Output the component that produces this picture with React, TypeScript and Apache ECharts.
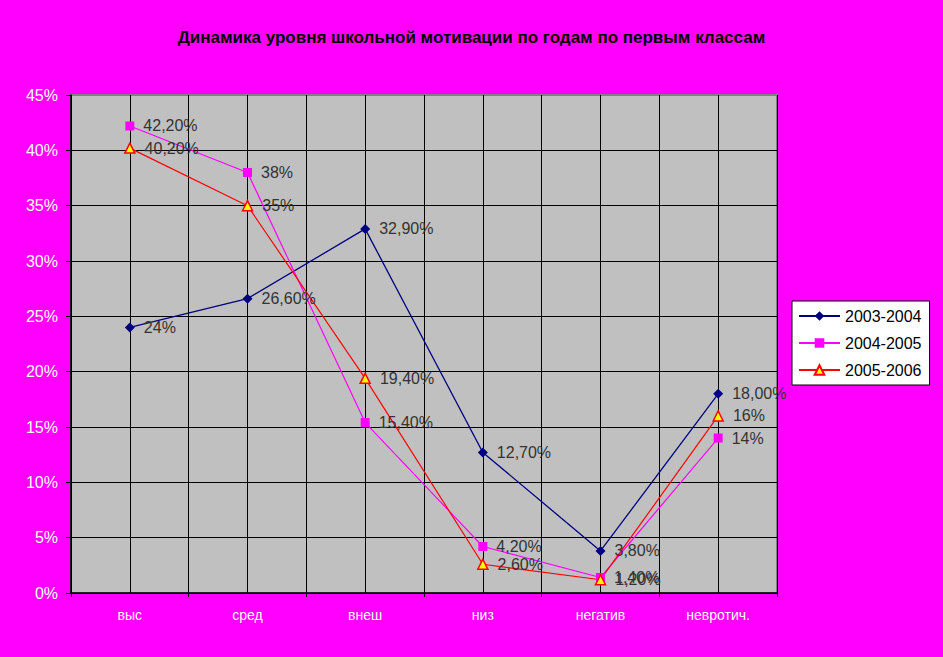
import React, { useEffect, useRef } from "react";
import * as echarts from "echarts";

const categories = ["выс", "сред", "внеш", "низ", "негатив", "невротич."];
const seriesNames = ["2003-2004", "2004-2005", "2005-2006"];
const values2003 = [24, 26.6, 32.9, 12.7, 3.8, 18];
const values2004 = [42.2, 38, 15.4, 4.2, 1.4, 14];
const values2005 = [40.2, 35, 19.4, 2.6, 1.2, 16];
const labels2003 = ["24%", "26,60%", "32,90%", "12,70%", "3,80%", "18,00%"];
const labels2004 = ["42,20%", "38%", "15,40%", "4,20%", "1,40%", "14%"];
const labels2005 = ["40,20%", "35%", "19,40%", "2,60%", "1,20%", "16%"];
const yTicks = [0, 5, 10, 15, 20, 25, 30, 35, 40, 45];
const halfSlots = ["", "", "", "", "", "", "", "", "", "", "", ""];

const FONT = "Liberation Sans, Arial, sans-serif";

export default function App() {
  const ref = useRef<HTMLDivElement>(null);
  useEffect(() => {
    if (!ref.current) return;
    const chart = echarts.init(ref.current, null, { renderer: "svg" });
    const labelCfg = (texts: string[]) => ({
      show: true,
      position: "right" as const,
      distance: 9,
      fontFamily: FONT,
      fontSize: 16,
      color: "#333333",
      formatter: (p: any) => texts[p.dataIndex],
    });
    const gridColors = yTicks.map((t, i) => (i === yTicks.length - 1 ? "#808080" : "#000000"));
    chart.setOption({
      animation: false,
      backgroundColor: "#FF00FF",
      title: {
        text: "Динамика уровня школьной мотивации по годам по первым классам",
        left: "center",
        top: 24,
        textStyle: {
          fontFamily: FONT,
          fontSize: 17,
          fontWeight: "bold",
          color: "#000000",
          textShadowColor: "#ffffff",
          textShadowOffsetX: 1,
          textShadowOffsetY: 1,
          textShadowBlur: 0,
        },
      },
      legend: {
        orient: "vertical",
        left: 792,
        top: 301,
        width: 136,
        padding: [7, 8, 7, 6],
        backgroundColor: "#ffffff",
        borderColor: "#000000",
        borderWidth: 1,
        itemWidth: 41,
        itemHeight: 12,
        itemGap: 11,
        textStyle: { fontFamily: FONT, fontSize: 16, color: "#000000" },
        data: seriesNames,
      },
      grid: {
        left: 71,
        right: 166,
        top: 95,
        bottom: 64,
        show: true,
        backgroundColor: "#C0C0C0",
        borderColor: "#808080",
        borderWidth: 2,
      },
      xAxis: [
        {
          type: "category",
          data: categories,
          boundaryGap: true,
          axisLine: { show: true, lineStyle: { color: "#000000", width: 1.5 } },
          axisTick: { show: true, length: 4, lineStyle: { color: "#000000" } },
          axisLabel: {
            fontFamily: FONT,
            fontSize: 14,
            color: "#ffffff",
            margin: 15,
            textShadowColor: "#000000",
            textShadowOffsetX: 1,
            textShadowOffsetY: 1,
            textShadowBlur: 0,
          },
          splitLine: { show: false },
        },
        {
          type: "category",
          data: halfSlots,
          boundaryGap: true,
          position: "bottom",
          axisLine: { show: false },
          axisTick: { show: false },
          axisLabel: { show: false },
          splitLine: { show: true, lineStyle: { color: "#000000", width: 1 } },
        },
      ],
      yAxis: {
        type: "value",
        min: 0,
        max: 45,
        interval: 5,
        axisLine: { show: true, lineStyle: { color: "#000000", width: 1.5 } },
        axisTick: { show: true, length: 5, lineStyle: { color: "#000000" } },
        axisLabel: {
          formatter: "{value}%",
          fontFamily: FONT,
          fontSize: 16,
          color: "#ffffff",
          margin: 13,
          textShadowColor: "#000000",
          textShadowOffsetX: 1,
          textShadowOffsetY: 1,
          textShadowBlur: 0,
        },
        splitLine: { show: true, lineStyle: { color: gridColors, width: 1 } },
      },
      series: [
        {
          name: seriesNames[0],
          type: "line",
          xAxisIndex: 0,
          data: values2003,
          symbol: "diamond",
          symbolSize: 10,
          itemStyle: { color: "#000080" },
          lineStyle: { color: "#000080", width: 1.3 },
          label: labelCfg(labels2003),
        },
        {
          name: seriesNames[1],
          type: "line",
          xAxisIndex: 0,
          data: values2004,
          symbol: "rect",
          symbolSize: 9,
          itemStyle: { color: "#FF00FF" },
          lineStyle: { color: "#FF00FF", width: 1.2 },
          label: labelCfg(labels2004),
        },
        {
          name: seriesNames[2],
          type: "line",
          xAxisIndex: 0,
          data: values2005,
          symbol: "triangle",
          symbolSize: 10,
          itemStyle: { color: "#FFFF00", borderColor: "#FF0000", borderWidth: 1.5 },
          lineStyle: { color: "#FF0000", width: 1.2 },
          label: labelCfg(labels2005),
        },
      ],
    });
    return () => chart.dispose();
  }, []);
  return <div ref={ref} style={{ width: 943, height: 657, position: "fixed", left: 0, top: 0 }} />;
}
